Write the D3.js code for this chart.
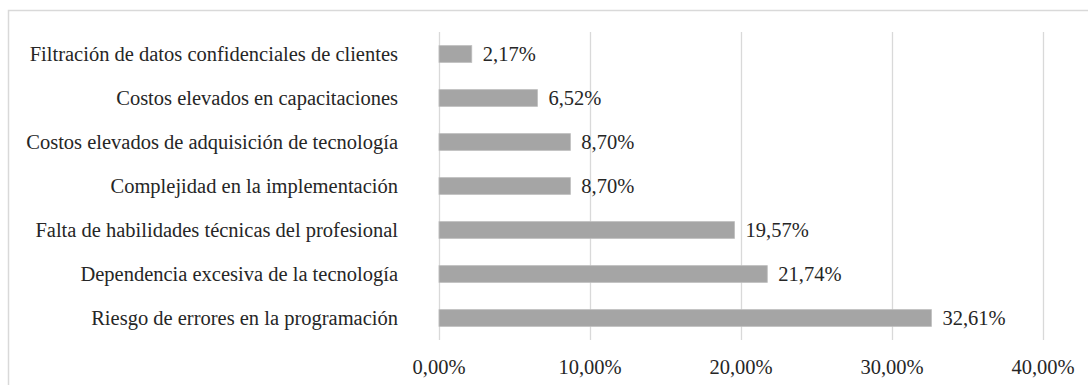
<!DOCTYPE html>
<html>
<head>
<meta charset="utf-8">
<script src="https://cdn.jsdelivr.net/npm/d3@7"></script>
<style>
  body { margin: 0; background: #fff; }
  svg text { font-family: "Liberation Serif", "Times New Roman", serif; fill: #262626; }
</style>
</head>
<body>
<div id="chart"></div>
<script>
// datos (de arriba hacia abajo)
var categorias = [
  "Filtración de datos confidenciales de clientes",
  "Costos elevados en capacitaciones",
  "Costos elevados de adquisición de tecnología",
  "Complejidad en la implementación",
  "Falta de habilidades técnicas del profesional",
  "Dependencia excesiva de la tecnología",
  "Riesgo de errores en la programación"
]
var valores = [2.17, 6.52, 8.70, 8.70, 19.57, 21.74, 32.61]
var ticks = [0, 10, 20, 30, 40]

var W = 1088, H = 385
var margin = { left: 439, right: 45, top: 32, bottom: 45 }
var fs = 20.5

var es = d3.formatLocale({ decimal: ",", thousands: ".", grouping: [3], currency: ["", "€"] })
var fmt = es.format(".2f")

var svg = d3.select("#chart").append("svg")
  .attr("width", W)
  .attr("height", H)

// marco
svg.append("rect")
  .attr("x", 8.5).attr("y", 10.5)
  .attr("width", W + 10).attr("height", H + 10)
  .attr("fill", "none")
  .attr("stroke", "#d9d9d9")
  .attr("stroke-width", 1.5)

var x = d3.scaleLinear().domain([0, 40]).range([margin.left, W - margin.right])
var y = d3.scaleBand().domain(categorias).range([margin.top, H - margin.bottom])
  .paddingInner(0.62).paddingOuter(0.31)

var datos = categorias.map(function (c, i) { return { cat: c, val: valores[i] } })

// lineas de cuadricula
svg.append("g").selectAll("line")
  .data(ticks)
  .enter()
  .append("line")
  .attr("x1", d => Math.round(x(d)) + 0.5)
  .attr("x2", d => Math.round(x(d)) + 0.5)
  .attr("y1", margin.top)
  .attr("y2", H - margin.bottom)
  .attr("stroke", "#d9d9d9")
  .attr("stroke-width", 1.3)

// etiquetas del eje x
svg.append("g").selectAll("text")
  .data(ticks)
  .enter()
  .append("text")
  .attr("x", d => x(d))
  .attr("y", 374)
  .attr("text-anchor", "middle")
  .attr("font-size", fs)
  .text(d => fmt(d) + "%")

// barras
svg.append("g").selectAll("rect")
  .data(datos)
  .enter()
  .append("rect")
  .attr("x", x(0))
  .attr("y", d => y(d.cat))
  .attr("width", d => x(d.val) - x(0))
  .attr("height", y.bandwidth())
  .attr("fill", "#a5a5a5")
  .attr("stroke", "#bdbdbd")
  .attr("stroke-width", 0.8)

// valores
svg.append("g").selectAll("text")
  .data(datos)
  .enter()
  .append("text")
  .attr("x", d => x(d.val) + 11)
  .attr("y", d => y(d.cat) + y.bandwidth() / 2)
  .attr("dy", "0.35em")
  .attr("font-size", fs)
  .text(d => fmt(d.val) + "%")

// categorias
svg.append("g").selectAll("text")
  .data(datos)
  .enter()
  .append("text")
  .attr("x", 398)
  .attr("y", d => y(d.cat) + y.bandwidth() / 2)
  .attr("dy", "0.35em")
  .attr("text-anchor", "end")
  .attr("font-size", fs)
  .text(d => d.cat)
</script>
</body>
</html>
